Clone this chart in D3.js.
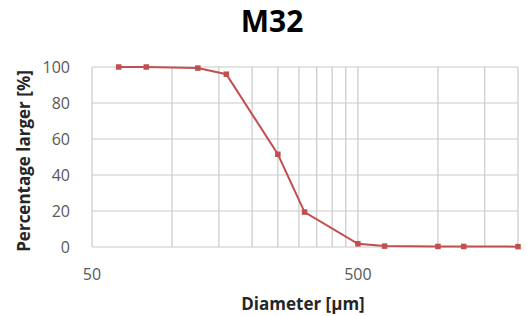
<!DOCTYPE html>
<html lang="en">
<head>
<meta charset="UTF-8">
<title>M32</title>
<script src="https://d3js.org/d3.v7.min.js"></script>
<style>
    body { margin: 0; background: #fff; font-family: 'Open Sans', sans-serif; }
    .grid line { stroke: #c9c9c9; stroke-width: 1.2px; }
    .tick-label { fill: #595959; font-size: 16px; }
    .axis-title { fill: #262626; font-size: 17px; font-weight: bold; }
</style>
</head>
<body>
<div id="chart"></div>
<script>
// Sieve sizes (µm) and percentage retained above each
const diameters = [63, 80, 125, 160, 250, 315, 500, 630, 1000, 1250, 2000];
const percentLarger = [100, 100, 99.4, 96, 51.5, 19.4, 1.8, 0.5, 0.3, 0.3, 0.2];
const xGridValues = [50, 100, 150, 200, 250, 300, 350, 400, 450, 500, 1000, 1500, 2000];
const xTickLabels = [50, 500];
const yTicks = [0, 20, 40, 60, 80, 100];

const W = 526, H = 316;
const margin = { top: 67, right: 8, bottom: 69, left: 92 };
const width = W - margin.left - margin.right;
const height = H - margin.top - margin.bottom;

const svg = d3.select("#chart").append("svg")
    .attr("width", W)
    .attr("height", H);

const g = svg.append("g")
    .attr("transform", `translate(${margin.left},${margin.top})`);

const x = d3.scaleLog().domain([50, 2000]).range([0, width]);
const y = d3.scaleLinear().domain([0, 100]).range([height, 0]);

// gridlines
const grid = g.append("g").attr("class", "grid");
grid.selectAll(".gx").data(xGridValues).join("line")
    .attr("x1", d => x(d)).attr("x2", d => x(d))
    .attr("y1", 0).attr("y2", height);
grid.selectAll(".gy").data(yTicks).join("line")
    .attr("x1", 0).attr("x2", width)
    .attr("y1", d => y(d)).attr("y2", d => y(d));

// tick labels
g.selectAll(".ylab").data(yTicks).join("text")
    .attr("class", "tick-label")
    .attr("x", -22)
    .attr("y", d => y(d))
    .attr("dy", "0.36em")
    .attr("text-anchor", "end")
    .text(d => d);

g.selectAll(".xlab").data(xTickLabels).join("text")
    .attr("class", "tick-label")
    .attr("x", d => x(d))
    .attr("y", height + 33)
    .attr("text-anchor", "middle")
    .text(d => d);

// data line
const data = diameters.map((d, i) => ({ d: d, p: percentLarger[i] }));
const line = d3.line().x(d => x(d.d)).y(d => y(d.p));

g.append("path")
    .datum(data)
    .attr("fill", "none")
    .attr("stroke", "#c0504d")
    .attr("stroke-width", 2)
    .attr("d", line);

g.selectAll(".pt").data(data).join("rect")
    .attr("x", d => x(d.d) - 2.75)
    .attr("y", d => y(d.p) - 2.75)
    .attr("width", 5.5)
    .attr("height", 5.5)
    .attr("fill", "#c0504d");

// titles
svg.append("text")
    .attr("x", 272)
    .attr("y", 32)
    .attr("text-anchor", "middle")
    .attr("font-size", "30px")
    .attr("font-weight", "bold")
    .attr("fill", "#000")
    .text("M32");

svg.append("text")
    .attr("class", "axis-title")
    .attr("x", 303)
    .attr("y", 310)
    .attr("text-anchor", "middle")
    .text("Diameter [µm]");

svg.append("text")
    .attr("class", "axis-title")
    .attr("transform", "translate(30,161) rotate(-90)")
    .attr("text-anchor", "middle")
    .text("Percentage larger [%]");
</script>
</body>
</html>
